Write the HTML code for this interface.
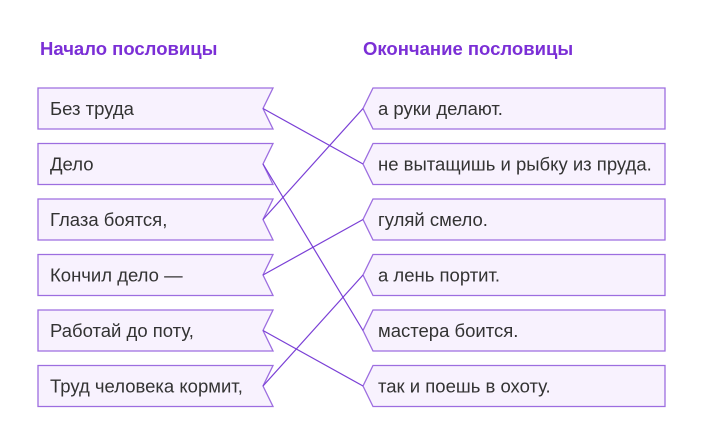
<!DOCTYPE html><html><head><meta charset="utf-8"><style>
body{margin:0;background:#fff;width:703px;height:443px;overflow:hidden}
svg{display:block}
text{font-family:"Liberation Sans",sans-serif}
</style></head><body>
<svg width="703" height="443" viewBox="0 0 703 443">
<text x="40" y="55" font-size="18.5" font-weight="bold" fill="#7b2fd6">Начало пословицы</text>
<text x="363" y="55" font-size="18.5" font-weight="bold" fill="#7b2fd6">Окончание пословицы</text>
<g fill="#f8f2fe" stroke="#9d6ee0" stroke-width="1.3">
<path d="M38 88H273L263 108.5L273 129H38Z"/>
<path d="M38 143.5H273L263 164L273 184.5H38Z"/>
<path d="M38 199H273L263 219.5L273 240H38Z"/>
<path d="M38 254.5H273L263 275L273 295.5H38Z"/>
<path d="M38 310H273L263 330.5L273 351H38Z"/>
<path d="M38 365.5H273L263 386L273 406.5H38Z"/>
<path d="M373 88H665V129H373L363 108.5Z"/>
<path d="M373 143.5H665V184.5H373L363 164Z"/>
<path d="M373 199H665V240H373L363 219.5Z"/>
<path d="M373 254.5H665V295.5H373L363 275Z"/>
<path d="M373 310H665V351H373L363 330.5Z"/>
<path d="M373 365.5H665V406.5H373L363 386Z"/>
</g>
<g stroke="#7a3fd6" stroke-width="1.2" fill="none">
<line x1="263" y1="108.5" x2="363" y2="164"/>
<line x1="263" y1="164" x2="363" y2="330.5"/>
<line x1="263" y1="219.5" x2="363" y2="108.5"/>
<line x1="263" y1="275" x2="363" y2="219.5"/>
<line x1="263" y1="330.5" x2="363" y2="386"/>
<line x1="263" y1="386" x2="363" y2="275"/>
</g>
<g font-size="18.5" fill="#333">
<text x="50" y="115">Без труда</text>
<text x="50" y="170.5">Дело</text>
<text x="50" y="226">Глаза боятся,</text>
<text x="50" y="281.5">Кончил дело —</text>
<text x="50" y="337">Работай до поту,</text>
<text x="50" y="392.5">Труд человека кормит,</text>
<text x="378" y="115">а руки делают.</text>
<text x="378" y="170.5">не вытащишь и рыбку из пруда.</text>
<text x="378" y="226">гуляй смело.</text>
<text x="378" y="281.5">а лень портит.</text>
<text x="378" y="337">мастера боится.</text>
<text x="378" y="392.5">так и поешь в охоту.</text>
</g>
</svg>
</body></html>
